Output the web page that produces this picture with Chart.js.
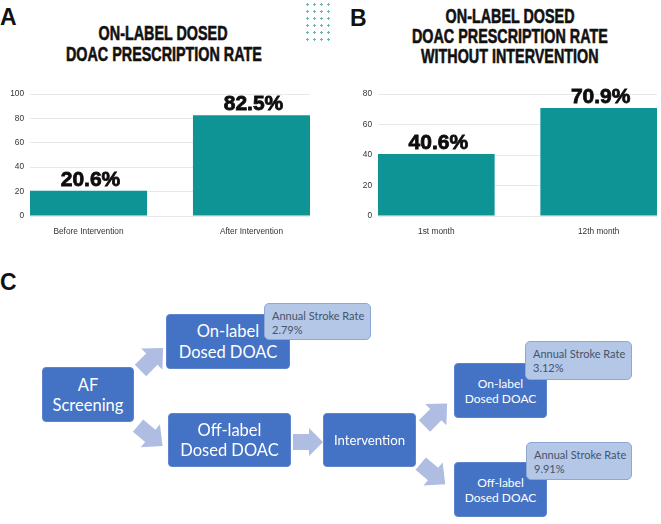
<!DOCTYPE html>
<html>
<head>
<meta charset="utf-8">
<script src="https://cdn.jsdelivr.net/npm/chart.js@4"></script>
<style>
  html, body { margin: 0; padding: 0; background: #fff; }
  #page { position: relative; width: 661px; height: 524px; overflow: hidden; }
  .abs { position: absolute; }
  .panel { font: bold 23px "Liberation Sans", Arial, sans-serif; line-height: 23px; color: #111; }
  .title { font: bold 20.5px "Liberation Sans", Arial, sans-serif; color: #111; text-align: center; white-space: nowrap;
           width: 400px; -webkit-text-stroke: 0.6px #111; }
  .title span { display: inline-block; transform: scaleX(0.7); }
  .dots { background-image: radial-gradient(circle, #6bb5ad 1px, transparent 1.3px); background-size: 7px 7px; }
  .box { position: absolute; box-sizing: border-box; background: #4472c4; border: 1px solid #5d84cc; border-radius: 4px;
         color: #fff; font-family: Lato, "Open Sans", sans-serif; display: flex; align-items: center; justify-content: center; text-align: center; }
  .note { position: absolute; box-sizing: border-box; background: #b4c7e7; border: 1px solid #8ea7d6; border-radius: 5px;
          color: #44546a; font: 11px Lato, "Open Sans", sans-serif; line-height: 14px; padding: 5px 0 0 7px; white-space: nowrap; }
  svg { position: absolute; left: 0; top: 0; }
</style>
</head>
<body>
<div id="page">
  <div class="abs panel" style="left:0;top:6px">A</div>
  <div class="abs panel" style="left:350px;top:7px">B</div>
  <div class="abs panel" style="left:0;top:271px">C</div>

  <div class="abs title" style="left:-36.5px;top:22px;line-height:21px">
    <span>ON-LABEL DOSED</span><br><span>DOAC PRESCRIPTION RATE</span>
  </div>
  <div class="abs title" style="left:310px;top:5.5px;line-height:20px">
    <span>ON-LABEL DOSED</span><br><span>DOAC PRESCRIPTION RATE</span><br><span>WITHOUT INTERVENTION</span>
  </div>
  <div class="abs dots" style="left:304px;top:1px;width:28px;height:42px"></div>

  <canvas id="chartA" class="abs" style="left:0;top:80px" width="320" height="156"></canvas>
  <canvas id="chartB" class="abs" style="left:330px;top:80px" width="331" height="156"></canvas>

  <svg id="arrows" width="661" height="524"></svg>
  <div id="flow"></div>
</div>
<script>
// panel A
const labelsA = ['Before Intervention', 'After Intervention'];
const valuesA = [20.6, 82.5];
const maxA = 100;
// panel B
const labelsB = ['1st month', '12th month'];
const valuesB = [40.6, 70.9];
const maxB = 80;
const tickStep = 20;
// panel C
const strokeRates = ['2.79%', '3.12%', '9.91%'];

const barFrac = 0.418; // bar width / plot width, bars sit flush with the plot edges

const valueLabels = {
  id: 'valueLabels',
  afterDatasetsDraw(chart) {
    const ctx = chart.ctx;
    const ds = chart.data.datasets[0];
    ctx.save();
    ctx.font = 'bold 21px "Liberation Sans", Arial, sans-serif';
    ctx.fillStyle = '#0d0d0d';
    ctx.strokeStyle = '#0d0d0d';
    ctx.lineWidth = 0.8;
    ctx.textAlign = 'center';
    ctx.textBaseline = 'alphabetic';
    chart.getDatasetMeta(0).data.forEach((bar, i) => {
      const txt = ds.data[i].toFixed(1) + '%';
      ctx.fillText(txt, bar.x + 2, bar.y - 5);
      ctx.strokeText(txt, bar.x + 2, bar.y - 5);
    });
    ctx.restore();
  }
};

function makeBarChart(id, labels, values, yMax, axisWidth, padRight) {
  const tickFont = { family: '"Liberation Sans", Arial, sans-serif', size: 8.3 };
  return new Chart(document.getElementById(id), {
    type: 'bar',
    data: {
      labels: labels,
      datasets: [{
        data: values,
        backgroundColor: '#0e9495',
        borderWidth: 0,
        categoryPercentage: 1,
        barPercentage: barFrac / (1 - barFrac)
      }]
    },
    options: {
      responsive: false,
      animation: false,
      devicePixelRatio: 1,
      layout: { padding: { top: 14, right: padRight, left: 0, bottom: 0 } },
      plugins: { legend: { display: false }, tooltip: { enabled: false } },
      scales: {
        x: {
          grid: { display: false },
          border: { display: false },
          ticks: { font: tickFont, color: '#333', padding: 3, maxRotation: 0 },
          afterBuildTicks(s) {
            s._startValue = -(barFrac / 2) / (1 - barFrac);
            s._valueRange = 1 / (1 - barFrac);
          },
          afterFit(s) { s.height = 20; }
        },
        y: {
          min: 0,
          max: yMax,
          ticks: { stepSize: tickStep, font: tickFont, color: '#333', padding: 6 },
          grid: { color: '#e8e8e8', drawTicks: false },
          border: { display: false },
          afterFit(s) { s.width = axisWidth; }
        }
      }
    },
    plugins: [valueLabels]
  });
}

makeBarChart('chartA', labelsA, valuesA, maxA, 30, 10);
makeBarChart('chartB', labelsB, valuesB, maxB, 48, 4);

// flow diagram
const flow = document.getElementById('flow');
function box(x, y, w, h, lines, size, lh) {
  const d = document.createElement('div');
  d.className = 'box';
  d.style.cssText = `left:${x}px;top:${y}px;width:${w}px;height:${h}px;font-size:${size}px;line-height:${lh}px`;
  d.innerHTML = lines.join('<br>');
  flow.appendChild(d);
}
function note(x, y, w, h, rate) {
  const d = document.createElement('div');
  d.className = 'note';
  d.style.cssText = `left:${x}px;top:${y}px;width:${w}px;height:${h}px`;
  d.innerHTML = 'Annual Stroke Rate<br>' + rate;
  flow.appendChild(d);
}
box(42, 367, 92, 55, ['AF', 'Screening'], 16.5, 20);
box(166, 314, 124, 55, ['On-label', 'Dosed DOAC'], 16.5, 21);
box(168, 413, 123, 54, ['Off-label', 'Dosed DOAC'], 16.5, 20);
box(323, 413, 93, 54, ['Intervention'], 13.2, 16);
box(454, 363, 93, 55, ['On-label', 'Dosed DOAC'], 12, 15);
box(454, 462, 93, 55, ['Off-label', 'Dosed DOAC'], 12, 15);
note(264, 303, 107, 37, strokeRates[0]);
note(525, 341, 107, 39, strokeRates[1]);
note(526, 442, 106, 38, strokeRates[2]);

const svg = document.getElementById('arrows');
function arrow(cx, cy, angle, L, t, h, hl) {
  const pts = [[-L / 2, -t / 2], [L / 2 - hl, -t / 2], [L / 2 - hl, -h / 2], [L / 2, 0],
               [L / 2 - hl, h / 2], [L / 2 - hl, t / 2], [-L / 2, t / 2]];
  const p = document.createElementNS('http://www.w3.org/2000/svg', 'polygon');
  p.setAttribute('points', pts.map(q => q.join(',')).join(' '));
  p.setAttribute('fill', '#afbde2');
  p.setAttribute('transform', `translate(${cx},${cy}) rotate(${angle})`);
  svg.appendChild(p);
}
arrow(151.8, 359.2, -45, 32, 16, 30, 16);
arrow(150.3, 435.8, 40, 32, 16, 30, 16);
arrow(308, 442, 0, 30, 16, 28, 14);
arrow(435.8, 414.7, -45, 32, 16, 30, 16);
arrow(433, 474, 40, 32, 16, 30, 16);
</script>
</body>
</html>
